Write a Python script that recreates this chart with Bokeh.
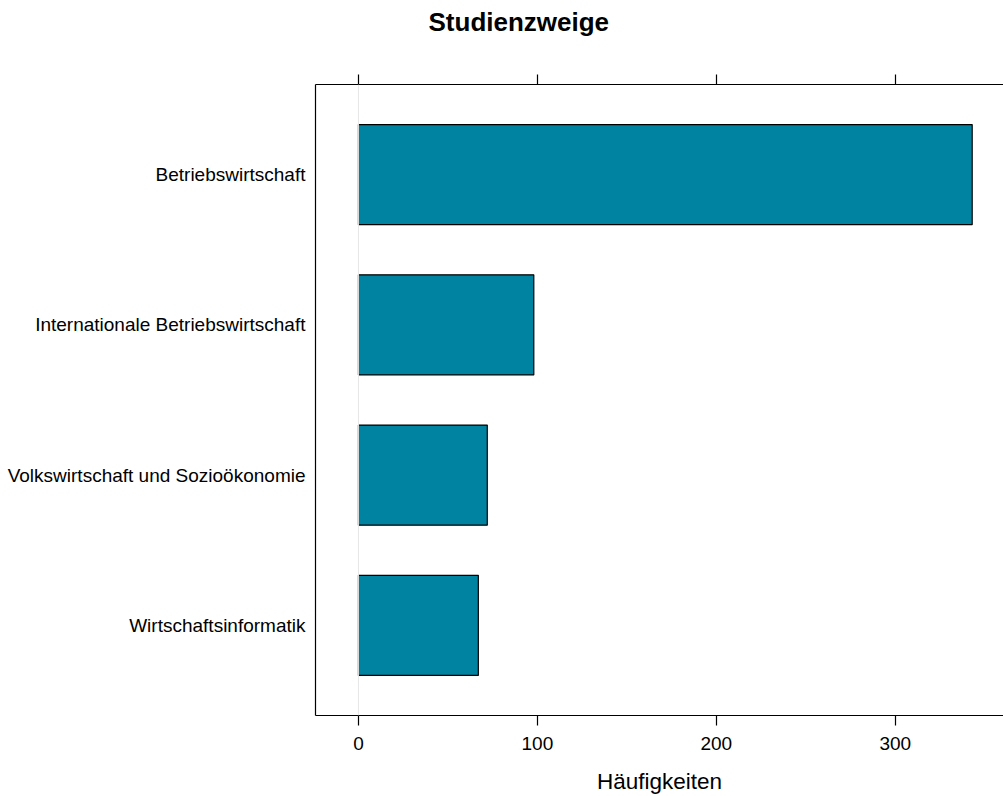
from bokeh.plotting import figure
from bokeh.models import Range1d, FactorRange, LinearAxis, FixedTicker, Span, Title
from bokeh.embed import file_html
from bokeh.resources import INLINE

title_text = "Studienzweige"
x_label = "Häufigkeiten"
categories = ["Betriebswirtschaft", "Internationale Betriebswirtschaft",
              "Volkswirtschaft und Sozioökonomie", "Wirtschaftsinformatik"]
counts = [343, 98, 72, 67]
tick_values = [0, 100, 200, 300]

FONT = "Liberation Sans"

y_factors = list(reversed(categories))
p = figure(width=1003, height=796, output_backend="svg", toolbar_location=None,
           x_range=Range1d(-24, 360.5),
           y_range=FactorRange(factors=y_factors, range_padding=0.1, range_padding_units="absolute"),
           x_axis_location=None, y_axis_location="left",
           min_border_left=315, min_border_right=0, min_border_top=84, min_border_bottom=80)

p.outline_line_color = None
p.xgrid.visible = False
p.ygrid.visible = False
p.background_fill_color = "white"
p.border_fill_color = "white"

p.add_layout(Span(location=0, dimension="height", line_color="#e6e6e6", line_width=1), "center")

p.hbar(y=categories, right=counts, left=0, height=2/3,
       fill_color="#0083A1", line_color="black", line_width=1.2)

# left axis (category labels)
ya = p.yaxis[0]
ya.major_tick_out = 0
ya.major_tick_in = 0
ya.axis_line_color = "black"
ya.axis_line_width = 1.2
ya.major_label_text_font = FONT
ya.major_label_text_font_size = "19px"
ya.major_label_text_color = "black"
ya.major_label_standoff = 10

# bottom axis
xb = LinearAxis(ticker=FixedTicker(ticks=tick_values, minor_ticks=[]),
                axis_label=x_label)
xb.major_tick_out = 10
xb.major_tick_in = 0
xb.axis_line_width = 1.2
xb.major_tick_line_width = 1.2
xb.major_label_text_font = FONT
xb.major_label_text_font_size = "19px"
xb.major_label_text_color = "black"
xb.major_label_standoff = 11
xb.axis_label_text_font = FONT
xb.axis_label_text_font_size = "22.5px"
xb.axis_label_text_font_style = "normal"
xb.axis_label_text_color = "black"
xb.axis_label_standoff = 16
p.add_layout(xb, "below")

# top axis (ticks only, no labels)
xt = LinearAxis(ticker=FixedTicker(ticks=tick_values, minor_ticks=[]))
xt.major_tick_out = 10
xt.major_tick_in = 0
xt.axis_line_width = 1.2
xt.major_tick_line_width = 1.2
xt.major_label_overrides = {t: "" for t in tick_values}
xt.major_label_standoff = 0
p.add_layout(xt, "above")

# invisible spacer axis that lifts the title away from the frame
spacer = LinearAxis(ticker=FixedTicker(ticks=tick_values, minor_ticks=[]))
spacer.major_tick_out = 38
spacer.major_tick_in = 0
spacer.major_tick_line_color = None
spacer.minor_tick_line_color = None
spacer.axis_line_color = None
spacer.major_label_overrides = {t: "" for t in tick_values}
spacer.major_label_standoff = 0
p.add_layout(spacer, "above")

p.title = Title(text=title_text, align="left", offset=113,
                text_font=FONT, text_font_size="26px", text_font_style="bold",
                text_color="black", standoff=0)

open("out.html", "w").write(file_html(p, INLINE))
